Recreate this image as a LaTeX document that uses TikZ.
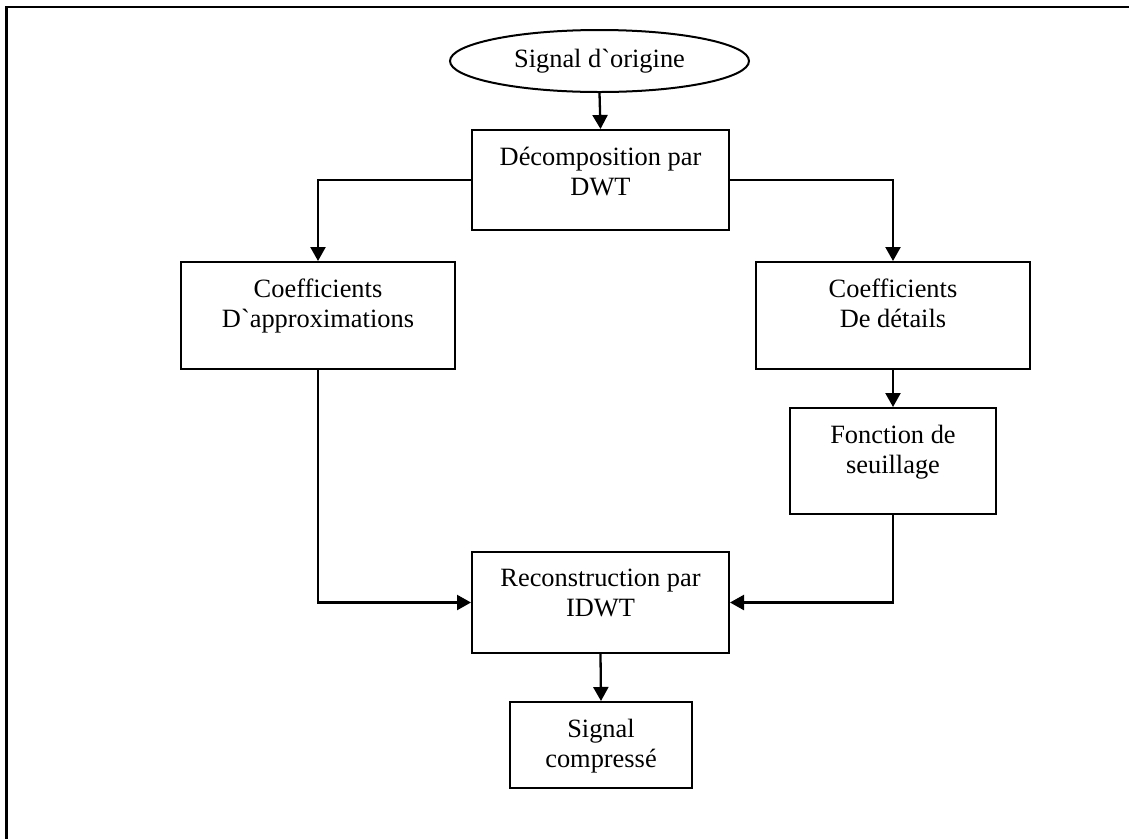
\documentclass[tikz,border=0pt]{standalone}
\usepackage{fontspec}
\setmainfont{Liberation Serif}
\usetikzlibrary{arrows.meta,shapes.geometric}

\tikzset{
  stage/.style={draw, line width=2pt, rectangle, inner sep=0pt},
  label text/.style={anchor=north, inner sep=0pt, align=center,
    font=\fontsize{26.4}{30.5}\selectfont},
  flow/.style={line width=2.3pt, -{Triangle[length=14pt,width=15pt]}},
  link/.style={line width=2.3pt},
}

\begin{document}
\begin{tikzpicture}[x=1pt, y=-1pt]
  \useasboundingbox (0,0) rectangle (1129,839);

  % page frame (top and left rules)
  \draw[line width=2.4pt] (1129,7) -- (6.5,7) -- (6.5,839);

  % source signal
  \node[draw, ellipse, line width=2pt, minimum width=299pt, minimum height=62pt,
        inner sep=0pt, font=\fontsize{26.4}{30.5}\selectfont]
        (orig) at (599.5,61) {Signal d\textasciigrave origine};

  % processing stages
  \node[stage, minimum width=257pt, minimum height=100pt] (dec)   at (600.5,180)   {};
  \node[stage, minimum width=274pt, minimum height=107pt] (appr)  at (318,315.5)   {};
  \node[stage, minimum width=274pt, minimum height=107pt] (det)   at (893,315.5)   {};
  \node[stage, minimum width=206pt, minimum height=106pt] (seuil) at (893,461)     {};
  \node[stage, minimum width=257pt, minimum height=101pt] (rec)   at (600.5,602.5) {};
  \node[stage, minimum width=182pt, minimum height=86pt]  (comp)  at (601,745)     {};

  % stage captions
  \node[label text] (dec-t)   at ([yshift=-17.5pt]dec.north)   {Décomposition par\\DWT};
  \node[label text] (appr-t)  at ([yshift=-17.5pt]appr.north)  {Coefficients\\D\textasciigrave approximations};
  \node[label text] (det-t)   at ([yshift=-17.5pt]det.north)   {Coefficients\\De détails};
  \node[label text] (seuil-t) at ([yshift=-17.5pt]seuil.north) {Fonction de\\seuillage};
  \node[label text] (rec-t)   at ([yshift=-17.5pt]rec.north)   {Reconstruction par\\IDWT};
  \node[label text] (comp-t)  at ([yshift=-17.5pt]comp.north)  {Signal\\compressé};

  % connectors
  \draw[flow] (orig.south) -- (dec.north);
  \draw[flow] (dec.west) -| (appr.north);
  \draw[flow] (dec.east) -| (det.north);
  \draw[flow] (det.south) -- (seuil.north);
  \draw[flow] (appr.south) |- (rec.west);
  \draw[flow] (seuil.south) |- (rec.east);
  \draw[flow] (rec.south) -- (comp.north);
\end{tikzpicture}
\end{document}
